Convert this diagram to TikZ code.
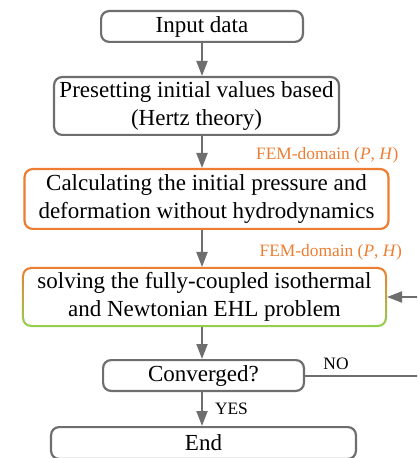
\documentclass[tikz,border=0pt]{standalone}
\usepackage{fontspec}
\setmainfont{Liberation Serif}
\usepackage{tikz}
\usetikzlibrary{arrows.meta,positioning,backgrounds}
\definecolor{linegray}{HTML}{6E6E6E}
\definecolor{femorange}{HTML}{ED7D31}
\definecolor{femgreen}{HTML}{92D050}

\begin{document}
\begin{tikzpicture}[node distance=16pt, line width=1pt,
  every node/.style={align=center, font=\fontsize{11.5}{14}\selectfont},
  box/.style={draw=linegray, line width=1.1pt, rounded corners=4pt, inner sep=0pt},
  tag/.style={font=\fontsize{8.7}{10}\selectfont, inner sep=1pt, text=black},
  >={Triangle[width=5.5pt,length=7.5pt]}]
\useasboundingbox (-101pt,13.25pt) rectangle (107.5pt,-215.75pt);
\clip (-101pt,13.25pt) rectangle (107.5pt,-215.75pt);
\node[box, minimum width=100.9pt, minimum height=15.4pt] (in) at (0,0) {Input data};
\node[box, minimum width=142.4pt, minimum height=28.9pt, below=16.5pt of in, xshift=-2.75pt] (pre) {Presetting initial values based\\(Hertz theory)};
\node[box, draw=femorange, minimum width=181.9pt, minimum height=29.9pt, below=of pre, xshift=5pt] (calc) {Calculating the initial pressure and\\deformation without hydrodynamics};
\node[box, draw=none, minimum width=181.4pt, minimum height=28.9pt, below=18.5pt of calc, xshift=-1pt] (solve) {solving the fully-coupled isothermal\\and Newtonian EHL problem};
\node[box, minimum width=100.4pt, minimum height=15.4pt, below=of solve, xshift=-0.5pt] (conv) {Converged?};
\node[box, minimum width=152.4pt, minimum height=15.9pt, below=17pt of conv] (end) {End};
% orange-to-green frame of the coupled solver
\begin{scope}[on background layer]
\shade[top color=femorange, bottom color=femgreen, rounded corners=4.5pt] (solve.north west) rectangle (solve.south east);
\fill[white, rounded corners=3.5pt] ([shift={(1.1pt,-1.1pt)}]solve.north west) rectangle ([shift={(-1.1pt,1.1pt)}]solve.south east);
\end{scope}
\node[tag, text=femorange, anchor=south east] (fem1) at ([xshift=6pt,yshift=1pt]calc.north east) {FEM-domain (\textit{P}, \textit{H})};
\node[tag, text=femorange, anchor=south east] (fem2) at ([xshift=9pt,yshift=2pt]solve.north east) {FEM-domain (\textit{P}, \textit{H})};
\node[tag] (no) at ([xshift=15.5pt,yshift=6pt]conv.east) {NO};
\coordinate[right=62pt of conv.east] (back);
\draw[->, linegray] (in) -- (in |- pre.north);
\draw[->, linegray] (in |- pre.south) -- (in |- calc.north);
\draw[->, linegray] (in |- calc.south) -- (in |- solve.north);
\draw[->, linegray] (in |- solve.south) -- (in |- conv.north);
\draw[->, linegray] (in |- conv.south) -- node[tag, right, xshift=5pt] (yes) {YES} (in |- end.north);
\draw[->, linegray] (conv.east) -- (back) |- (solve.east);
\end{tikzpicture}
\end{document}
